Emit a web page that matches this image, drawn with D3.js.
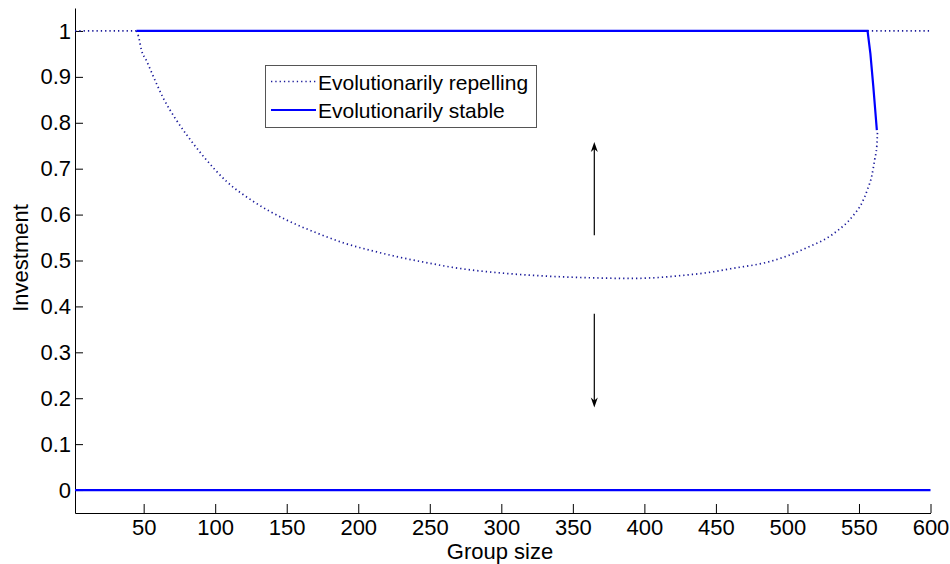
<!DOCTYPE html>
<html>
<head>
<meta charset="utf-8">
<script src="https://cdn.jsdelivr.net/npm/d3@7"></script>
<style>
  body { margin: 0; background: #fff; }
  text { font-family: "Liberation Sans", Arial, sans-serif; fill: #000; }
</style>
</head>
<body>
<div id="chart"></div>
<script>
// tick values / labels
const xTicks = [50, 100, 150, 200, 250, 300, 350, 400, 450, 500, 550, 600];
const yTicks = [0, 0.1, 0.2, 0.3, 0.4, 0.5, 0.6, 0.7, 0.8, 0.9, 1];
const yTickLabels = ["0", "0.1", "0.2", "0.3", "0.4", "0.5", "0.6", "0.7", "0.8", "0.9", "1"];

// evolutionarily repelling branch (dotted)
const repX = [45, 46.4, 48.5, 52, 58, 64, 72, 80, 92, 108, 127, 150, 171, 190, 210, 229, 250, 264, 280, 299, 320, 346, 367, 390, 410, 425, 445, 460, 488, 513, 532, 546, 552, 556, 559, 561, 562.5, 563];
const repY = [1, 0.988, 0.958, 0.935, 0.892, 0.852, 0.81, 0.774, 0.726, 0.672, 0.628, 0.588, 0.56, 0.538, 0.521, 0.507, 0.494, 0.486, 0.479, 0.473, 0.468, 0.464, 0.462, 0.461, 0.463, 0.467, 0.474, 0.482, 0.498, 0.527, 0.558, 0.598, 0.625, 0.655, 0.685, 0.72, 0.75, 0.785];
const repLeftX = [2, 45];
const repLeftY = [1, 1];
const repRightX = [556, 600];
const repRightY = [1, 1];

// evolutionarily stable branches (solid)
const stabX = [45, 556, 558, 560, 561.3, 562.5];
const stabY = [1, 1, 0.95, 0.88, 0.83, 0.784];
const zeroX = [2, 600];
const zeroY = [0, 0];

// arrows
const arrowX = [365, 365];
const arrowFrom = [0.555, 0.384];
const arrowTo = [0.758, 0.18];

const legendLabels = ["Evolutionarily repelling", "Evolutionarily stable"];

let width = 950, height = 564;
let svg = d3.select('#chart').append('svg')
    .attr('width', width)
    .attr('height', height);

let x = d3.scaleLinear().domain([2, 600]).range([75, 930.5]);
let y = d3.scaleLinear().domain([-0.05, 1.05]).range([513, 8]);

// axes (MATLAB style, ticks inward)
let xAxis = svg.append('g')
    .attr('transform', `translate(0,${y(-0.05)})`)
    .call(d3.axisBottom(x).tickValues(xTicks).tickSizeInner(-9).tickSizeOuter(0).tickPadding(6));
let yAxis = svg.append('g')
    .attr('transform', `translate(${x(2)},0)`)
    .call(d3.axisLeft(y).tickValues(yTicks).tickFormat((d, i) => yTickLabels[i]).tickSizeInner(-8).tickSizeOuter(0).tickPadding(4));

[xAxis, yAxis].forEach(ax => {
    ax.select('.domain').attr('stroke', '#000').attr('stroke-width', 1);
    ax.selectAll('.tick line').attr('stroke', '#000');
    ax.selectAll('text').attr('font-size', 22).attr('font-family', '"Liberation Sans", Arial, sans-serif').attr('fill', '#000');
});

svg.append('text')
    .attr('x', 500).attr('y', 559)
    .attr('text-anchor', 'middle')
    .attr('font-size', 22)
    .text('Group size');
svg.append('text')
    .attr('transform', 'translate(28,258) rotate(-90)')
    .attr('text-anchor', 'middle')
    .attr('font-size', 22)
    .text('Investment');

let line = d3.line().x(d => x(d[0])).y(d => y(d[1]));
let smooth = d3.line().x(d => x(d[0])).y(d => y(d[1])).curve(d3.curveMonotoneX);
let zip = (xs, ys) => xs.map((v, i) => [v, ys[i]]);

let blue = '#0000ff';
let navy = '#1a1a9a';
[[zip(repLeftX, repLeftY), line], [zip(repX, repY), smooth], [zip(repRightX, repRightY), line]].forEach(([pts, gen]) => {
    svg.append('path')
        .attr('d', gen(pts))
        .attr('fill', 'none')
        .attr('stroke', navy)
        .attr('stroke-width', 1.7)
        .attr('stroke-dasharray', '1.3,3');
});
[zip(stabX, stabY), zip(zeroX, zeroY)].forEach(pts => {
    svg.append('path')
        .attr('d', line(pts))
        .attr('fill', 'none')
        .attr('stroke', blue)
        .attr('stroke-width', 2.2);
});

// arrows
arrowX.forEach((ax, i) => {
    let px = x(ax), y0 = y(arrowFrom[i]), y1 = y(arrowTo[i]);
    let dir = y1 < y0 ? 1 : -1;
    svg.append('line')
        .attr('x1', px).attr('x2', px)
        .attr('y1', y0).attr('y2', y1 + dir * 4)
        .attr('stroke', '#000').attr('stroke-width', 1.2);
    svg.append('path')
        .attr('d', `M${px},${y1} L${px - 3.5},${y1 + dir * 10} L${px},${y1 + dir * 7} L${px + 3.5},${y1 + dir * 10} Z`)
        .attr('fill', '#000');
});

// legend
let legend = svg.append('g');
legend.append('rect')
    .attr('x', 265.5).attr('y', 65.5)
    .attr('width', 271).attr('height', 62)
    .attr('fill', '#fff')
    .attr('stroke', '#555').attr('stroke-width', 1);
legendLabels.forEach((lab, i) => {
    let ly = i === 0 ? 81.5 : 110;
    legend.append('line')
        .attr('x1', 271).attr('x2', 316)
        .attr('y1', ly).attr('y2', ly)
        .attr('stroke', i === 0 ? navy : blue)
        .attr('stroke-width', i === 0 ? 1.4 : 2.2)
        .attr('stroke-dasharray', i === 0 ? '1.3,3' : null);
    legend.append('text')
        .attr('x', 318).attr('y', ly + 8)
        .attr('font-size', 21)
        .text(lab);
});
</script>
</body>
</html>
